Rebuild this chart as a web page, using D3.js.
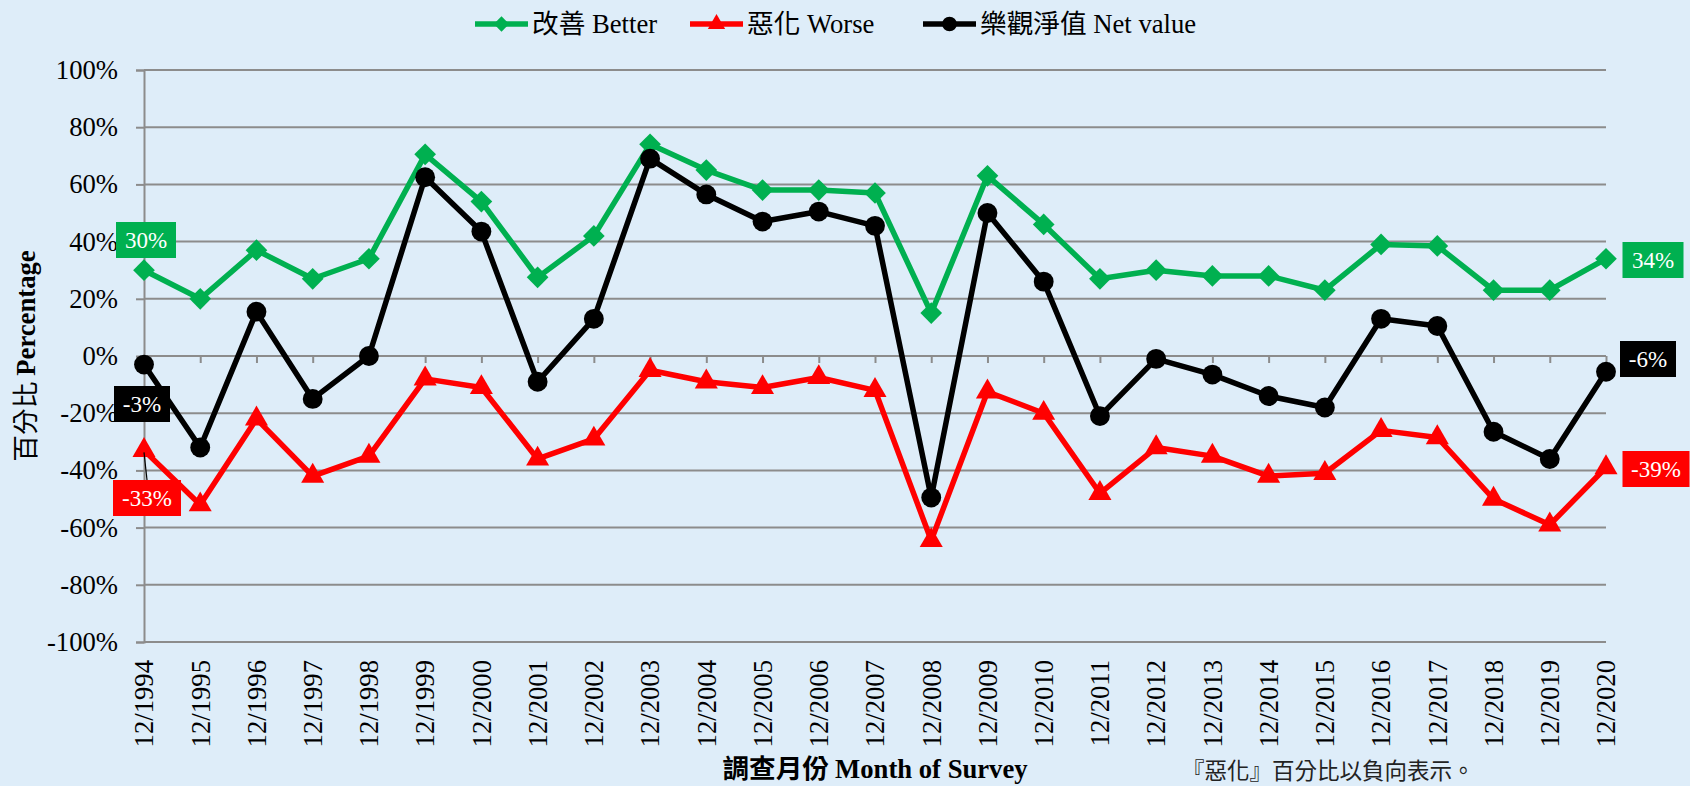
<!DOCTYPE html>
<html>
<head>
<meta charset="utf-8">
<script src="https://cdn.jsdelivr.net/npm/d3@7"></script>
<style>
  html, body { margin: 0; padding: 0; background: #deedf9; }
  svg { display: block; }
</style>
</head>
<body>
<svg width="1690" height="786"></svg>
<script>
const svg = d3.select("svg");
const width = +svg.attr("width");
const height = +svg.attr("height");

const months = ["12/1994", "12/1995", "12/1996", "12/1997", "12/1998", "12/1999", "12/2000",
  "12/2001", "12/2002", "12/2003", "12/2004", "12/2005", "12/2006", "12/2007", "12/2008",
  "12/2009", "12/2010", "12/2011", "12/2012", "12/2013", "12/2014", "12/2015", "12/2016",
  "12/2017", "12/2018", "12/2019", "12/2020"];

const better = [30, 20, 37, 27, 34, 70.5, 54, 27.5, 42, 74, 65, 58, 58, 57, 15,
  63, 46, 27, 30, 28, 28, 23, 39, 38.5, 23, 23, 34];

const worse = [-33, -52, -22, -42, -35, -8, -11, -36, -29, -5, -9, -11, -7.5, -12, -64.5,
  -12.5, -20, -48, -32, -35, -42, -41, -26, -28.5, -50, -59, -39];

const net = [-3, -32, 15.5, -15, 0, 62.5, 43.5, -9, 13, 69, 56.5, 47, 50.5, 45.5, -49.5,
  50, 26, -21, -1, -6.5, -14, -18, 13, 10.5, -26.5, -36, -5.5];

const yTicks = [-100, -80, -60, -40, -20, 0, 20, 40, 60, 80, 100];

const GREEN = "#00b050", RED = "#ff0000", BLACK = "#000000", GRID = "#8c8c8c";
const serif = "'Liberation Serif', 'Times New Roman', serif";
const cjk = "'Noto Sans CJK TC', 'Noto Sans CJK SC', sans-serif";
const FS = 26.67;

const x = d3.scalePoint().domain(months).range([144, 1606]);
const y = d3.scaleLinear().domain([-100, 100]).range([642, 70]);

// y axis + tick labels
const yAxis = d3.axisLeft(y).tickValues(yTicks).tickSize(8)
  .tickFormat(d => d + "%");
const gy = svg.append("g").attr("transform", "translate(144,0)").call(yAxis);
gy.attr("font-family", null);
gy.select(".domain").attr("stroke", GRID).attr("stroke-width", 2);
gy.selectAll(".tick line").attr("stroke", GRID).attr("stroke-width", 2);
gy.selectAll(".tick text").attr("x", -26)
  .style("font-family", serif).style("font-size", FS + "px").attr("fill", "#000");

// horizontal grid lines
svg.append("g").selectAll("line").data(yTicks).join("line")
  .attr("x1", 144).attr("x2", 1606)
  .attr("y1", d => y(d)).attr("y2", d => y(d))
  .attr("stroke", GRID).attr("stroke-width", 2);

// x axis sits at 0%
const xAxis = d3.axisBottom(x).tickSize(7).tickFormat("");
const gx = svg.append("g").attr("transform", `translate(0,${y(0)})`).call(xAxis);
gx.select(".domain").remove();
gx.selectAll(".tick line").attr("stroke", GRID).attr("stroke-width", 2);

// x labels at bottom
svg.append("g").selectAll("text").data(months).join("text")
  .attr("transform", d => `translate(${x(d)},660) rotate(-90)`)
  .attr("text-anchor", "end").attr("dy", "0.35em")
  .style("font-family", serif).style("font-size", FS + "px")
  .text(d => d);

// series
const line = d3.line().x((d, i) => x(months[i])).y(d => y(d));
const series = [
  { key: "better", values: better, color: GREEN, symbol: d3.symbolDiamond2 },
  { key: "worse", values: worse, color: RED, symbol: d3.symbolTriangle },
  { key: "net", values: net, color: BLACK, symbol: d3.symbolCircle }
];
const symSize = { better: 300, worse: 230, net: 310 };

series.forEach(s => {
  svg.append("path").datum(s.values)
    .attr("fill", "none").attr("stroke", s.color)
    .attr("stroke-width", 5.5).attr("stroke-linejoin", "round")
    .attr("d", line);
  svg.append("g").selectAll("path").data(s.values).join("path")
    .attr("transform", (d, i) => `translate(${x(months[i])},${y(d)})`)
    .attr("d", d3.symbol(s.symbol, symSize[s.key]))
    .attr("fill", s.color);
});

// leader line for first worse label
svg.append("line")
  .attr("x1", x(months[0])).attr("y1", y(worse[0]) + 2)
  .attr("x2", x(months[0]) + 3).attr("y2", 480)
  .attr("stroke", "#000").attr("stroke-width", 1.2);

// data labels
const labels = [
  { v: better[0], cx: 146, cy: 240, w: 60, color: GREEN },
  { v: net[0], cx: 142, cy: 404, w: 56, color: BLACK },
  { v: worse[0], cx: 147, cy: 498, w: 68, color: RED },
  { v: better[26], cx: 1653, cy: 260, w: 61, color: GREEN },
  { v: -6, cx: 1648, cy: 359, w: 56, color: BLACK },
  { v: worse[26], cx: 1656, cy: 469, w: 67, color: RED }
];
const lg = svg.append("g").selectAll("g").data(labels).join("g")
  .attr("transform", d => `translate(${d.cx},${d.cy})`);
lg.append("rect")
  .attr("x", d => -d.w / 2).attr("y", -18).attr("width", d => d.w).attr("height", 36)
  .attr("fill", d => d.color);
lg.append("text")
  .attr("text-anchor", "middle").attr("dy", "0.35em")
  .style("font-family", serif).style("font-size", "23px").attr("fill", "#fff")
  .text(d => Math.round(d.v) + "%");

// legend
const legendItems = [
  { cjk: "改善", en: "Better", color: GREEN, symbol: d3.symbolDiamond2, size: 150, x: 475 },
  { cjk: "惡化", en: "Worse", color: RED, symbol: d3.symbolTriangle, size: 130, x: 690 },
  { cjk: "樂觀淨值", en: "Net value", color: BLACK, symbol: d3.symbolCircle, size: 170, x: 923 }
];
const leg = svg.append("g").selectAll("g").data(legendItems).join("g")
  .attr("transform", d => `translate(${d.x},24)`);
leg.append("line").attr("x1", 0).attr("x2", 53)
  .attr("stroke", d => d.color).attr("stroke-width", 5.5);
leg.append("path").attr("transform", "translate(26.5,0)")
  .attr("d", d => d3.symbol(d.symbol, d.size)()).attr("fill", d => d.color);
const lt = leg.append("text").attr("x", 57).attr("dy", "0.35em").style("font-size", FS + "px");
lt.append("tspan").style("font-family", cjk).text(d => d.cjk);
lt.append("tspan").style("font-family", serif).text(d => " " + d.en);

// axis titles
const yt = svg.append("text")
  .attr("transform", "translate(26,356) rotate(-90)")
  .attr("text-anchor", "middle").attr("dy", "0.35em").style("font-size", FS + "px");
yt.append("tspan").style("font-family", cjk).text("百分比 ");
yt.append("tspan").style("font-family", serif).attr("font-weight", "bold").text("Percentage");

const xt = svg.append("text")
  .attr("x", 875).attr("y", 769).attr("dy", "0.35em")
  .attr("text-anchor", "middle").style("font-size", FS + "px");
xt.append("tspan").style("font-family", cjk).attr("font-weight", "bold").text("調查月份 ");
xt.append("tspan").style("font-family", serif).attr("font-weight", "bold").text("Month of Survey");

svg.append("text")
  .attr("x", 1182).attr("y", 771).attr("dy", "0.35em")
  .style("font-family", cjk).style("font-size", "22.5px").attr("fill", "#222")
  .text("『惡化』百分比以負向表示。");
</script>
</body>
</html>
